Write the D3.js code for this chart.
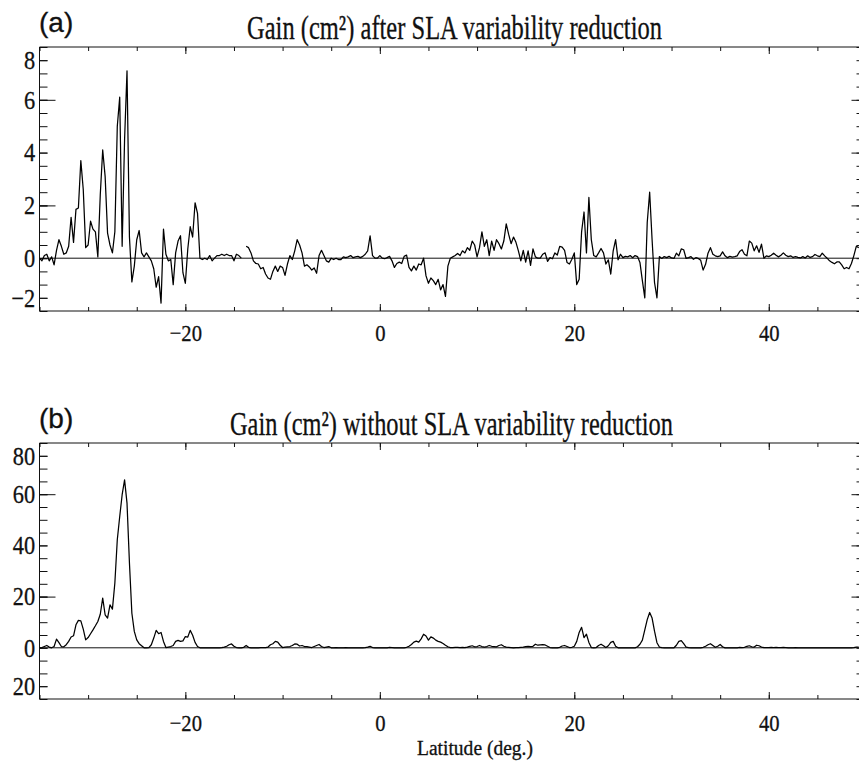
<!DOCTYPE html>
<html>
<head>
<meta charset="utf-8">
<script src="https://cdn.jsdelivr.net/npm/d3@7"></script>
<style>
  body { margin: 0; background: #fff; }
  svg text { font-family: "Liberation Serif", "Times New Roman", serif; fill: #111; stroke: #111; stroke-width: 0.3px; }
</style>
</head>
<body>
<div id="chart"></div>
<script>
// latitude grid of the traced series (degrees)
const latStart = -35;
const latStep = 0.25;

// (a) gain after SLA variability reduction, cm²
const gainAfter = [
  0.0, -0.1, 0.1, 0.15, -0.1, 0.05, -0.25, 0.3, 0.7, 0.45,
  0.15, 0.2, 0.45, 1.55, 0.6, 1.85, 1.9, 3.7, 2.6, 0.4,
  0.5, 1.4, 1.1, 1.0, 0.05, 2.4, 4.1, 3.1, 0.95, 0.5,
  0.2, 1.0, 5.0, 6.1, 0.45, 4.5, 7.1, 0.8, -0.9, -0.3,
  0.7, 1.05, 0.2, 0.05, 0.2, 0.05, -0.1, -0.4, -1.1, -0.7,
  -1.7, 1.1, 0.15, -0.1, -0.05, -1.0, 0.2, 0.65, 0.85, -0.55,
  -0.95, 0.35, 1.2, 0.8, 2.1, 1.7, 0.0, -0.05, 0.0, -0.05,
  0.1, -0.1, 0.0, 0.1, 0.1, 0.15, 0.1, 0.15, 0.1, 0.1,
  -0.1, 0.15, 0.1, 0.0, null, 0.45, 0.4, 0.2, -0.1, -0.2,
  -0.22, -0.4, -0.35, -0.6, -0.75, -0.8, -0.5, -0.3, -0.5, -0.3,
  -0.35, -0.65, -0.22, 0.1, -0.05, 0.28, 0.7, 0.5, 0.2, -0.3,
  -0.25, -0.33, -0.45, -0.37, -0.57, 0.1, 0.3, 0.1, -0.1, -0.15,
  0.0, -0.05, 0.0, -0.05, -0.05, 0.05, 0.02, 0.05, 0.1, 0.02,
  0.05, 0.07, 0.02, 0.07, 0.15, 0.28, 0.85, 0.1, 0.0, 0.0,
  0.1, 0.0, -0.02, 0.02, 0.07, -0.1, -0.35, -0.2, -0.15, -0.2,
  0.07, 0.12, -0.35, -0.48, -0.3, -0.45, -0.22, -0.25, 0.0, -0.67,
  -0.95, -0.75, -0.85, -1.0, -0.8, -1.2, -1.0, -1.45, -0.3, 0.0,
  0.05, 0.1, 0.18, 0.1, 0.28, 0.2, 0.4, 0.3, 0.65, 0.5,
  0.05, 0.4, 1.0, 0.45, 0.7, 0.1, 0.65, 0.3, 0.7, 0.55,
  0.35, 0.65, 1.3, 0.9, 0.55, 0.8, 0.6, 0.28, -0.1, 0.3,
  -0.15, 0.28, -0.27, 0.35, 0.05, 0.0, 0.0, 0.15, 0.2, -0.12,
  0.02, -0.02, 0.2, 0.12, 0.45, 0.42, 0.3, -0.16, -0.22, -0.04,
  0.2, -1.0, -0.8, 1.0, 1.75, 0.2, 2.3, 0.7, 0.1, 0.05,
  0.2, 0.37, 0.2, -0.22, -0.06, -0.6, 0.28, 0.7, -0.06, 0.15,
  0.02, 0.07, 0.05, 0.1, 0.02, 0.1, 0.06, -0.16, -0.85, -1.5,
  1.35, 2.5, 0.7, -0.92, -1.5, 0.06, -0.01, 0.06, 0.02, 0.07,
  0.01, -0.01, 0.19, 0.09, 0.35, 0.32, -0.01, 0.02, 0.06, -0.04,
  0.02, -0.01, -0.08, -0.45, -0.23, 0.19, 0.4, 0.15, 0.09, 0.06,
  0.09, 0.24, 0.09, 0.02, 0.07, 0.04, 0.06, 0.09, 0.25, 0.32,
  0.15, 0.09, 0.65, 0.57, 0.28, 0.47, 0.22, 0.53, 0.0, 0.09,
  0.06, 0.11, 0.19, 0.11, 0.05, 0.11, 0.2, 0.11, 0.06, 0.09,
  0.03, 0.06, 0.03, 0.01, 0.06, 0.01, 0.09, 0.03, 0.06, 0.14,
  0.09, 0.06, 0.19, 0.09, 0.0, -0.1, -0.16, -0.21, -0.14, -0.14,
  -0.25, -0.4, -0.35, -0.4, -0.2, 0.1, 0.45, 0.4
];

// (b) gain without SLA variability reduction, cm²
const gainWithout = [
  0, 0.1, 0.5, 0.9, 0.3, 0, 0.5, 3.4, 2.0, 0.5,
  0.4, 1.2, 2.5, 4.2, 4.7, 9.0, 10.7, 10.5, 7.3, 3.1,
  4.0, 5.5, 7.0, 8.6, 10.3, 13.1, 19.4, 12.9, 11.6, 16.8,
  15.1, 25.3, 42.2, 51.3, 59.8, 65.6, 56.5, 33.1, 13.5, 6.4,
  3.1, 1.6, 0.8, 0, 0, 0.1, 1.2, 3.8, 6.8, 5.5,
  6.0, 2.5, 0.1, 0.3, 0.5, 0.9, 2.5, 2.9, 2.5, 2.7,
  4.4, 4.2, 6.8, 4.9, 2.1, 0.5, 0, 0, 0, 0,
  0, 0, 0, 0, 0, 0.1, 0.3, 0.6, 1.2, 1.5,
  0.6, 0.1, 0, 0, 0.2, 0.9, 0.2, 0, 0, 0,
  0, 0.1, 0.1, 0.1, 0.3, 1.2, 1.6, 2.5, 2.2, 1.0,
  0.1, 0.3, 0.4, 0.5, 0.9, 1.5, 1.4, 0.7, 0.9, 0.5,
  0.5, 0.3, 0.1, 0.5, 0.9, 1.3, 0.5, 0.1, 0.3, 0.5,
  0, 0, 0.1, 0, 0, 0, 0.1, 0, 0, 0,
  0, 0, 0, 0, 0.1, 0.3, 0.6, 0.1, 0, 0,
  0, 0, 0, 0, 0.2, 0.1, 0, 0, 0, 0,
  0, 0.2, 0.6, 1.3, 2.2, 2.6, 2.2, 3.5, 5.3, 4.6,
  3.0, 4.3, 3.8, 3.0, 2.5, 2.2, 1.7, 1.0, 0.4, 0.1,
  0.1, 0.2, 0.2, 0.1, 0.2, 0.1, 0.3, 0.6, 0.8, 0.4,
  0.5, 0.9, 0.5, 0.3, 0.5, 0.9, 0.6, 0.5, 0.4, 0.9,
  1.2, 0.6, 0.3, 0.2, 0.1, 0, 0.1, 0.1, 0.2, 0.3,
  0.5, 0.6, 0.5, 0.6, 1.4, 1.0, 1.1, 1.2, 1.1, 0.6,
  0.1, 0, 0, 0, 0.2, 0.7, 0.9, 0.5, 0.1, 0.2,
  0.6, 2.5, 6.0, 8.0, 4.0, 5.3, 2.1, 0.1, 0, 0.1,
  0.9, 1.4, 0.8, 0.1, 0.8, 2.1, 2.5, 0.6, 0, 0,
  0, 0, 0, 0, 0, 0, 0.4, 1.4, 3.0, 7.0,
  11.0, 13.8, 11.6, 6.5, 2.0, 0.3, 0.1, 0, 0, 0,
  0, 0, 1.0, 2.5, 2.8, 1.6, 0.3, 0.1, 0, 0,
  0, 0, 0, 0.2, 0.6, 1.2, 1.6, 0.9, 0.2, 0.6,
  1.3, 0.4, 0, 0, 0, 0, 0, 0, 0.2, 0.1,
  0.2, 0.6, 0.8, 0.4, 0.3, 1.0, 0.8, 0.3, 0.1, 0.1,
  0.1, 0.2, 0.1, 0.2, 0.1, 0.1, 0.2, 0.1, 0, 0,
  0, 0.1, 0, 0, 0, 0, 0, 0, 0, 0,
  0, 0, 0, 0, 0, 0, 0, 0, 0, 0,
  0, 0, 0, 0, 0, 0.1, 0.3, 0.3
];

// axis ticks as printed on the figure
const xLabelTicks = [-20, 0, 20, 40];
const yTicksA = [-1.5, 0, 2, 4, 6, 7.5];
const yLabelsA = ["\u22122", "0", "2", "4", "6", "8"];
const yTicksB = [-15, 0, 20, 40, 60, 75];
const yLabelsB = ["20", "0", "20", "40", "60", "80"];

const width = 859, height = 761;

const svg = d3.select("#chart")
    .append("svg")
    .attr("width", width)
    .attr("height", height);

const x = d3.scaleLinear()
    .domain([-35, 49.33])
    .range([39.5, 859.5]);

const panels = [
    {
        id: "a", values: gainAfter, domain: [-2, 8], top: 47, bottom: 311,
        ticks: yTicksA, labels: yLabelsA, longTicks: [2, 6], rightTicks: [2, 4, 6], minorStep: 0.5,
        title: "Gain (cm\u00b2) after SLA variability reduction", titleX: 247, titleY: 39, titleLen: 415,
        tag: "(a)", tagY: 32, xPad: 13
    },
    {
        id: "b", values: gainWithout, domain: [-20, 80], top: 443, bottom: 699,
        ticks: yTicksB, labels: yLabelsB, longTicks: [20, 60], rightTicks: [20, 40, 60], minorStep: 5,
        title: "Gain (cm\u00b2) without SLA variability reduction", titleX: 230, titleY: 435, titleLen: 443,
        tag: "(b)", tagY: 428, xPad: 15
    }
];

const squeeze = (sel, size) => sel.selectAll("text")
    .style("font-size", size + "px")
    .attr("transform", "scale(0.86,1)");

panels.forEach(p => {
    const y = d3.scaleLinear().domain(p.domain).range([p.bottom, p.top]);
    const g = svg.append("g").attr("id", "panel-" + p.id);
    const [x0, x1] = x.range();
    const minorY = d3.range(p.domain[0], p.domain[1] + 1e-9, p.minorStep);
    const minorX = d3.range(-35, 46, 5);

    // clip
    g.append("clipPath").attr("id", "clip-" + p.id)
        .append("rect")
        .attr("x", x0).attr("y", p.top)
        .attr("width", x1 - x0).attr("height", p.bottom - p.top);

    // left axis: minor, long and labelled ticks
    const left = g.append("g").attr("transform", `translate(${x0},0)`);
    left.append("g").call(d3.axisLeft(y).tickValues(minorY).tickSize(-8).tickFormat("").tickSizeOuter(0))
        .call(a => a.select(".domain").remove());
    left.append("g").call(d3.axisLeft(y).tickValues(p.longTicks).tickSize(-16).tickFormat("").tickSizeOuter(0))
        .call(a => a.select(".domain").remove());
    left.append("g").call(d3.axisLeft(y).tickValues(p.ticks).tickSize(-8).tickPadding(5)
            .tickFormat((d, i) => p.labels[i]).tickSizeOuter(0))
        .call(a => a.select(".domain").remove())
        .call(a => squeeze(a, 26));

    // right axis
    const right = g.append("g").attr("transform", `translate(${x1},0)`);
    right.append("g").call(d3.axisRight(y).tickValues(minorY).tickSize(-3).tickFormat("").tickSizeOuter(0))
        .call(a => a.select(".domain").remove());
    right.append("g").call(d3.axisRight(y).tickValues(p.rightTicks).tickSize(-8).tickFormat("").tickSizeOuter(0))
        .call(a => a.select(".domain").remove());

    // top axis
    const topAx = g.append("g").attr("transform", `translate(0,${p.top})`);
    topAx.append("g").call(d3.axisTop(x).tickValues(minorX).tickSize(-4).tickFormat("").tickSizeOuter(0))
        .call(a => a.select(".domain").remove());
    topAx.append("g").call(d3.axisTop(x).tickValues(xLabelTicks).tickSize(-7).tickFormat("").tickSizeOuter(0))
        .call(a => a.select(".domain").remove());

    // bottom axis
    const bot = g.append("g").attr("transform", `translate(0,${p.bottom})`);
    bot.append("g").call(d3.axisBottom(x).tickValues(minorX).tickSize(-4).tickFormat("").tickSizeOuter(0))
        .call(a => a.select(".domain").remove());
    bot.append("g").call(d3.axisBottom(x).tickValues(xLabelTicks).tickSize(-7).tickPadding(p.xPad)
            .tickFormat(d3.format("d")).tickSizeOuter(0))
        .call(a => a.select(".domain").remove())
        .call(a => squeeze(a, 24));

    g.selectAll(".tick line").attr("stroke", "#111");

    // frame (left, top, bottom)
    g.append("path")
        .attr("d", `M${x1},${p.top}H${x0}V${p.bottom}H${x1}`)
        .attr("fill", "none")
        .attr("stroke", "#111")
        .attr("stroke-width", 1);

    // zero line
    g.append("line")
        .attr("x1", x0).attr("x2", x1)
        .attr("y1", y(0)).attr("y2", y(0))
        .attr("stroke", "#111")
        .attr("stroke-width", 1);

    // series
    const pts = p.values.map((v, i) => ({ lat: latStart + i * latStep, v }));
    const line = d3.line()
        .defined(d => d.v !== null)
        .x(d => x(d.lat))
        .y(d => y(d.v));
    g.append("path")
        .datum(pts)
        .attr("clip-path", `url(#clip-${p.id})`)
        .attr("fill", "none")
        .attr("stroke", "#000")
        .attr("stroke-width", 1.25)
        .attr("stroke-linejoin", "round")
        .attr("d", line);

    // titles
    g.append("text")
        .attr("x", p.titleX).attr("y", p.titleY)
        .attr("textLength", p.titleLen)
        .attr("lengthAdjust", "spacingAndGlyphs")
        .style("font-size", "33px")
        .text(p.title);
    g.append("text")
        .attr("x", 39).attr("y", p.tagY)
        .style("font-family", "'Liberation Sans', Arial, sans-serif")
        .style("font-size", "28px")
        .text(p.tag);
});

svg.append("text")
    .attr("x", 417).attr("y", 755)
    .attr("textLength", 116)
    .attr("lengthAdjust", "spacingAndGlyphs")
    .style("font-size", "20px")
    .text("Latitude (deg.)");
</script>
</body>
</html>
